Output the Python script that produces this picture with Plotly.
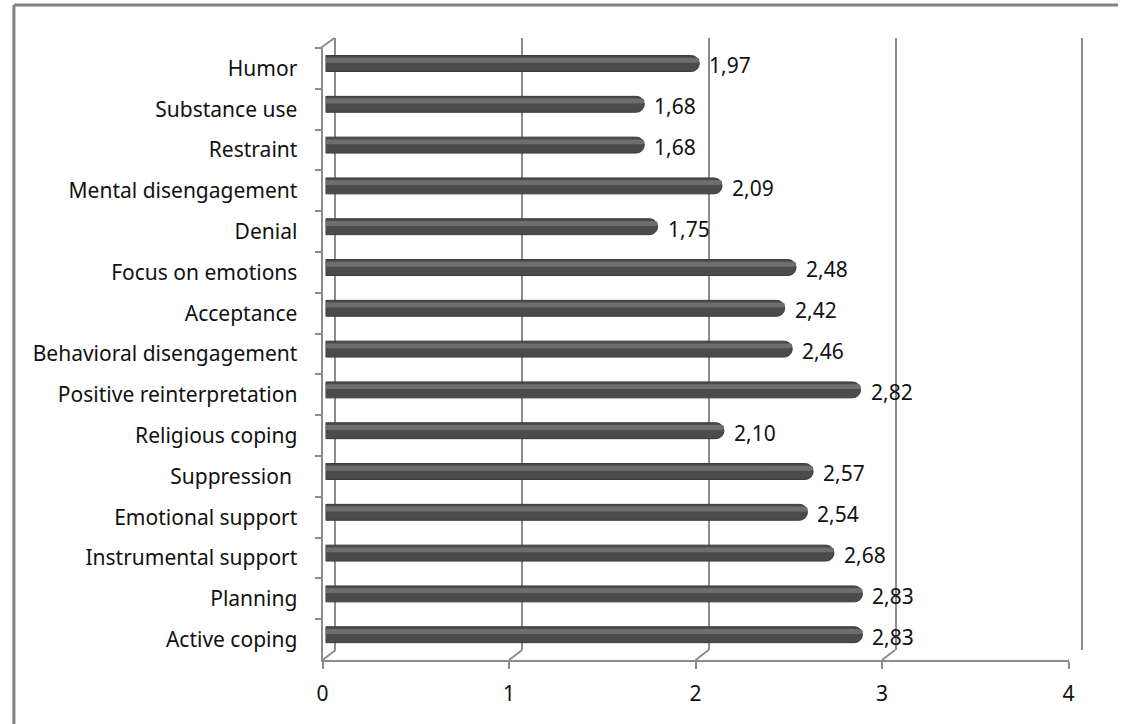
import plotly.graph_objects as go

# Coping strategies, listed top to bottom, with their mean scores
categories = [
    "Humor", "Substance use", "Restraint", "Mental disengagement", "Denial",
    "Focus on emotions", "Acceptance", "Behavioral disengagement",
    "Positive reinterpretation", "Religious coping", "Suppression ",
    "Emotional support", "Instrumental support", "Planning", "Active coping",
]
scores = [1.97, 1.68, 1.68, 2.09, 1.75, 2.48, 2.42, 2.46, 2.82, 2.10,
          2.57, 2.54, 2.68, 2.83, 2.83]
x_ticks = [0, 1, 2, 3, 4]

W, H = 1124, 724
GRAY = "#8c8c8c"
FONT = "Noto Sans"
FSIZE = 21


def px(x):
    return x / W


def py(y):
    return 1 - y / H


fig = go.Figure()

# cylinder body
fig.add_trace(go.Bar(
    x=scores, y=categories, orientation="h", xaxis="x3", yaxis="y",
    width=0.39, offset=-0.315,
    marker=dict(color="#4b4b4b", line=dict(color="#3a3a3a", width=1),
                cornerradius=8),
    hoverinfo="x+y", showlegend=False,
))
# lighter band along the upper part of each cylinder
fig.add_trace(go.Bar(
    x=scores, y=categories, orientation="h", xaxis="x3", yaxis="y",
    width=0.12, offset=-0.26,
    marker=dict(color="#6e6e6e", line=dict(width=0), cornerradius=3),
    hoverinfo="skip", showlegend=False,
))
# empty trace so the back-wall subplot is drawn
fig.add_trace(go.Scatter(x=[], y=[], xaxis="x2", yaxis="y2",
                         mode="markers", showlegend=False, hoverinfo="skip"))

# value labels with comma decimals
annotations = []
for cat, v in zip(categories, scores):
    annotations.append(dict(
        x=v, y=cat, xref="x3", yref="y", xanchor="left", yanchor="middle",
        xshift=8, yshift=3, showarrow=False,
        text=f"{v:.2f}".replace(".", ","),
        font=dict(family=FONT, size=FSIZE, color="#111111"),
    ))

# depth connectors between the floor ticks and the back wall
shapes = []
for t in x_ticks:
    shapes.append(dict(
        type="line", xref="x", yref="paper",
        xsizemode="pixel", xanchor=t, x0=0, x1=13,
        ysizemode="pixel", yanchor=py(660), y0=0, y1=10,
        line=dict(color=GRAY, width=2),
    ))
# top-left corner of the side wall
shapes.append(dict(
    type="line", xref="paper", yref="paper",
    x0=px(318), y0=py(48), x1=px(332), y1=py(38),
    line=dict(color=GRAY, width=2),
))
# outer chart frame (left and top edges)
shapes.append(dict(type="line", xref="paper", yref="paper",
                   x0=px(8), y0=py(5), x1=px(8), y1=0,
                   line=dict(color="#828282", width=3)))
shapes.append(dict(type="line", xref="paper", yref="paper",
                   x0=px(8), y0=py(5), x1=1, y1=py(5),
                   line=dict(color="#828282", width=3)))

# back wall spans 0..4 with a small pad so the end gridlines are kept
PAD = 0.02
BACK_L, BACK_R = 333, 1088
unit = (BACK_R - BACK_L) / 4

fig.update_layout(
    width=W, height=H,
    margin=dict(l=0, r=0, t=0, b=0),
    paper_bgcolor="white", plot_bgcolor="rgba(0,0,0,0)",
    barmode="overlay",
    font=dict(family=FONT, size=FSIZE, color="#111111"),
    # floor axis with the tick labels
    xaxis=dict(
        domain=[px(320), px(1074)], range=[0, 4], anchor="y",
        tickvals=x_ticks, ticktext=[str(t) for t in x_ticks],
        showgrid=False, zeroline=False,
        showline=True, linecolor=GRAY, linewidth=2,
        ticks="outside", ticklen=7, tickcolor=GRAY, tickwidth=2,
        ticklabelstandoff=7,
        tickfont=dict(family=FONT, size=FSIZE, color="#111111"),
    ),
    # category axis on the side wall
    yaxis=dict(
        domain=[py(660), py(48)], anchor="x",
        categoryorder="array", categoryarray=categories,
        autorange="reversed",
        showgrid=False, zeroline=False,
        showline=True, linecolor=GRAY, linewidth=2,
        ticks="outside", ticklen=6, tickcolor=GRAY, tickwidth=2,
        tickson="boundaries", ticklabelstandoff=19,
        tickfont=dict(family=FONT, size=FSIZE, color="#111111"),
    ),
    # back wall gridlines
    xaxis2=dict(
        domain=[px(BACK_L - PAD * unit), px(BACK_R + PAD * unit)],
        range=[-PAD, 4 + PAD], anchor="y2",
        tickvals=x_ticks, showticklabels=False,
        showgrid=True, gridcolor=GRAY, gridwidth=2,
        zeroline=False, showline=False, ticks="",
    ),
    yaxis2=dict(
        domain=[py(650), py(38)], anchor="x2",
        range=[0, 1], showticklabels=False, showgrid=False,
        zeroline=False, showline=False, ticks="",
    ),
    # scale used for the cylinders themselves
    xaxis3=dict(
        domain=[px(323), px(1090)], range=[0, 4], anchor="y",
        visible=False, showgrid=False, zeroline=False,
    ),
    annotations=annotations,
    shapes=shapes,
)

fig.write_html("out.html", config={"displayModeBar": False})
